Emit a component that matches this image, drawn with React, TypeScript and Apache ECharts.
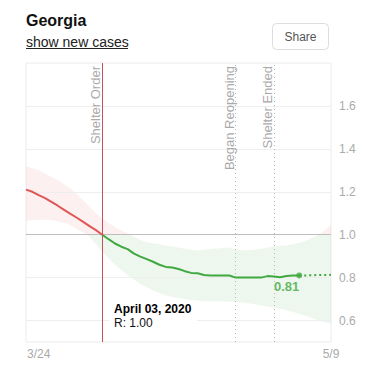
import React, { useEffect, useRef } from 'react';
import * as echarts from 'echarts';

const dates = [
  '3/22', '3/23', '3/24', '3/25', '3/26', '3/27', '3/28', '3/29', '3/30', '3/31',
  '4/1', '4/2', '4/3', '4/4', '4/5', '4/6', '4/7', '4/8', '4/9', '4/10',
  '4/11', '4/12', '4/13', '4/14', '4/15', '4/16', '4/17', '4/18', '4/19', '4/20',
  '4/21', '4/22', '4/23', '4/24', '4/25', '4/26', '4/27', '4/28', '4/29', '4/30',
  '5/1', '5/2', '5/3', '5/4', '5/5', '5/6', '5/7', '5/8', '5/9',
];

const rValues = [
  1.21, 1.2, 1.184, 1.17, 1.153, 1.135, 1.116, 1.097, 1.079, 1.06,
  1.04, 1.021, 1.0, 0.979, 0.959, 0.944, 0.933, 0.912, 0.898, 0.886,
  0.874, 0.86, 0.85, 0.847, 0.84, 0.83, 0.822, 0.82, 0.812, 0.81,
  0.81, 0.81, 0.81, 0.8, 0.8, 0.8, 0.8, 0.8, 0.807, 0.805,
  0.802, 0.808, 0.81, 0.81,
];

const projValues = [0.81, 0.81, 0.811, 0.812, 0.812, 0.813];

const upperValues = [
  1.32, 1.31, 1.3, 1.285, 1.27, 1.255, 1.235, 1.215, 1.19, 1.16,
  1.13, 1.1, 1.075, 1.055, 1.035, 1.02, 1.005, 0.99, 0.975, 0.965,
  0.96, 0.955, 0.95, 0.945, 0.94, 0.935, 0.93, 0.926, 0.93, 0.933,
  0.936, 0.938, 0.94, 0.93, 0.928, 0.928, 0.93, 0.935, 0.94, 0.945,
  0.948, 0.95, 0.955, 0.962, 0.972, 0.985, 1.0, 1.02, 1.045,
];

const lowerValues = [
  1.065, 1.067, 1.07, 1.07, 1.068, 1.062, 1.055, 1.045, 1.025, 1.01,
  0.99, 0.955, 0.92, 0.89, 0.86, 0.835, 0.81, 0.79, 0.77, 0.755,
  0.74, 0.728, 0.718, 0.71, 0.705, 0.7, 0.695, 0.692, 0.69, 0.69,
  0.69, 0.69, 0.688, 0.686, 0.684, 0.68, 0.676, 0.67, 0.665, 0.66,
  0.655, 0.648, 0.64, 0.632, 0.622, 0.612, 0.6, 0.592, 0.585,
];

const yTickValues = [0.6, 0.8, 1.0, 1.2, 1.4, 1.6];
const threshold = 1.0;
const shownDates = ['3/24', '5/9'];
const events = [
  { date: '4/3', label: 'Shelter Order' },
  { date: '4/24', label: 'Began Reopening' },
  { date: '4/30', label: 'Shelter Ended' },
];
const hoverDate = '4/3';
const hoverTitle = 'April 03, 2020';
const stateName = 'Georgia';

const FONT = "'Liberation Sans', Arial, Helvetica, sans-serif";
const RED = '#e05656';
const GREEN = '#40a840';
const W = 366;
const H = 372;

function splitGradient(splitY: number) {
  const off = Math.max(0, Math.min(1, splitY / H));
  return new echarts.graphic.LinearGradient(0, 0, 0, H, [
    { offset: 0, color: RED },
    { offset: off, color: RED },
    { offset: off, color: GREEN },
    { offset: 1, color: GREEN },
  ], true);
}

export default function App() {
  const ref = useRef<HTMLDivElement>(null);

  useEffect(() => {
    if (!ref.current) return;
    const chart = echarts.init(ref.current, null, { renderer: 'svg' });
    const projStart = rValues.length - 1;
    const projData = dates.map((_, i) => (i >= projStart ? projValues[i - projStart] : null));
    const bandDiff = upperValues.map((u, i) => +(u - lowerValues[i]).toFixed(4));
    const hoverIdx = dates.indexOf(hoverDate);

    const gridLines = yTickValues.map((v) => ({
      yAxis: v,
      lineStyle: { color: v === threshold ? '#bdbdbd' : '#eeeeee', type: 'solid', width: 1 },
      label: { show: false },
    }));
    const eventLines = events.map((e) => ({
      xAxis: e.date,
      lineStyle: { color: '#b8b8b8', type: [1, 3], width: 1 },
      label: {
        show: true,
        formatter: e.label,
        position: 'insideEndTop',
        color: '#aaaaaa',
        fontSize: 13,
        fontFamily: FONT,
        distance: [3, 0],
      },
    }));
    const cursorLine = {
      xAxis: hoverDate,
      lineStyle: { color: '#c8505c', type: 'solid', width: 1 },
      label: { show: false },
    };

    chart.setOption({
      animation: false,
      textStyle: { fontFamily: FONT },
      grid: {
        left: 26, right: 35, top: 63, bottom: 30,
        show: true, borderColor: '#ececec', borderWidth: 1, backgroundColor: 'transparent',
      },
      xAxis: {
        type: 'category',
        data: dates,
        boundaryGap: false,
        axisLine: { show: false },
        axisTick: { show: false },
        splitLine: { show: false },
        axisLabel: {
          interval: (_i: number, v: string) => shownDates.includes(v),
          color: '#aaaaaa',
          fontSize: 12,
          margin: 6,
          fontFamily: FONT,
        },
      },
      yAxis: {
        type: 'value',
        position: 'right',
        min: 0.5,
        max: 1.8,
        interval: 0.1,
        axisLine: { show: false },
        axisTick: { show: false },
        splitLine: { show: false },
        axisLabel: {
          color: '#aaaaaa',
          fontSize: 12,
          margin: 8,
          fontFamily: FONT,
          formatter: (v: number) => {
            const t = yTickValues.find((y) => Math.abs(y - v) < 1e-6);
            return t === undefined ? '' : t.toFixed(1);
          },
        },
      },
      series: [
        {
          name: 'lower',
          type: 'line',
          data: lowerValues,
          stack: 'band',
          symbol: 'none',
          silent: true,
          lineStyle: { opacity: 0, width: 0 },
          markLine: {
            silent: true,
            symbol: ['none', 'none'],
            label: { show: false },
            data: [...gridLines, ...eventLines, cursorLine],
          },
        },
        {
          name: 'band',
          type: 'line',
          data: bandDiff,
          stack: 'band',
          symbol: 'none',
          silent: true,
          lineStyle: { width: 0, opacity: 0 },
          areaStyle: { color: GREEN, opacity: 0.09 },
        },
        {
          name: 'R',
          type: 'line',
          data: rValues,
          symbol: 'none',
          lineStyle: { width: 2, color: GREEN },
          z: 5,
        },
        {
          name: 'projection',
          type: 'line',
          data: projData,
          symbol: 'none',
          lineStyle: { color: GREEN, width: 2, type: [2, 3] },
          z: 4,
        },
        {
          name: 'latest',
          type: 'scatter',
          data: [[dates[projStart], rValues[projStart]]],
          symbol: 'circle',
          symbolSize: 6,
          itemStyle: { color: GREEN },
          z: 6,
          label: {
            show: true,
            formatter: (p: any) => p.value[1].toFixed(2),
            position: [3, 14.5],
            align: 'right',
            verticalAlign: 'middle',
            color: GREEN,
            fontWeight: 'bold',
            fontSize: 13,
            fontFamily: FONT,
          },
        },
      ],
      graphic: [
        {
          type: 'text',
          x: 26, y: 20,
          style: {
            text: stateName, fill: '#111', fontSize: 16, fontWeight: 'bold', fontFamily: FONT,
            align: 'left', verticalAlign: 'middle', textAlign: 'left', textVerticalAlign: 'middle',
          },
        },
        {
          type: 'text',
          x: 26, y: 42,
          style: {
            text: 'show new cases', fill: '#222', fontSize: 14, fontFamily: FONT,
            align: 'left', verticalAlign: 'middle', textAlign: 'left', textVerticalAlign: 'middle',
          },
        },
        {
          type: 'line',
          shape: { x1: 26, y1: 48.5, x2: 128, y2: 48.5 },
          style: { stroke: '#222', lineWidth: 1 },
        },
        {
          type: 'rect',
          shape: { x: 272.5, y: 23.5, width: 56, height: 26, r: 4 },
          style: { fill: '#fff', stroke: '#dddddd', lineWidth: 1 },
        },
        {
          type: 'text',
          x: 300.5, y: 36.5,
          style: {
            text: 'Share', fill: '#555', fontSize: 12, fontFamily: FONT,
            align: 'center', verticalAlign: 'middle', textAlign: 'center', textVerticalAlign: 'middle',
          },
        },
        {
          type: 'rect',
          z: 50,
          shape: { x: 109, y: 300, width: 88, height: 31 },
          style: { fill: '#ffffff' },
        },
        {
          type: 'text',
          z: 51,
          x: 114, y: 308.5,
          style: {
            text: hoverTitle, fill: '#000', fontSize: 12, fontWeight: 'bold', fontFamily: FONT,
            align: 'left', verticalAlign: 'middle', textAlign: 'left', textVerticalAlign: 'middle',
          },
        },
        {
          type: 'text',
          z: 51,
          x: 114, y: 322.5,
          style: {
            text: 'R: ' + rValues[hoverIdx].toFixed(2), fill: '#111', fontSize: 12, fontFamily: FONT,
            align: 'left', verticalAlign: 'middle', textAlign: 'left', textVerticalAlign: 'middle',
          },
        },
      ],
    });

    const splitY = chart.convertToPixel({ yAxisIndex: 0 }, threshold) as number;
    if (typeof splitY === 'number' && isFinite(splitY)) {
      chart.setOption({
        series: [
          {},
          { areaStyle: { color: splitGradient(splitY), opacity: 0.09 } },
          { lineStyle: { width: 2, color: splitGradient(splitY) } },
        ],
      });
    }

    return () => {
      chart.dispose();
    };
  }, []);

  return (
    <div
      ref={ref}
      style={{ position: 'absolute', left: 0, top: 0, width: W, height: H, background: '#fff' }}
    />
  );
}
